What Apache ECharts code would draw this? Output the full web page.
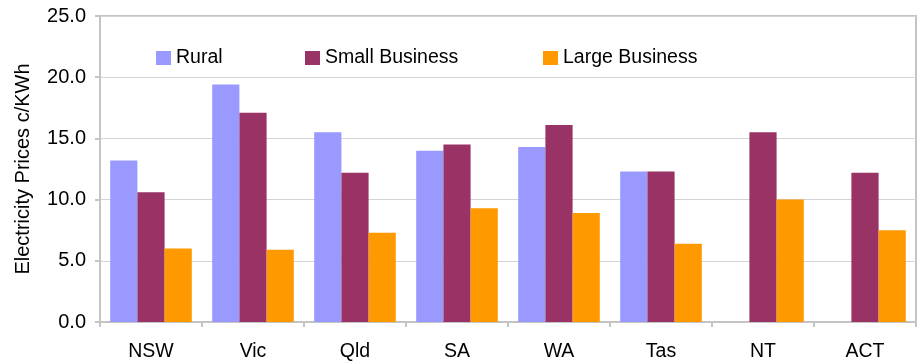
<!DOCTYPE html>
<html>
<head>
<meta charset="utf-8">
<script src="https://cdn.jsdelivr.net/npm/echarts@6/dist/echarts.min.js"></script>
<style>
  html, body { margin: 0; padding: 0; background: #ffffff; }
  #chart { width: 920px; height: 363px; }
</style>
</head>
<body>
<div id="chart"></div>
<script>
// Electricity prices by state and customer type (c/KWh)
const states = ['NSW', 'Vic', 'Qld', 'SA', 'WA', 'Tas', 'NT', 'ACT'];
const rural = [13.2, 19.4, 15.5, 14.0, 14.3, 12.3, null, null];
const smallBusiness = [10.6, 17.1, 12.2, 14.5, 16.1, 12.3, 15.5, 12.2];
const largeBusiness = [6.0, 5.9, 7.3, 9.3, 8.9, 6.4, 10.0, 7.5];
const seriesNames = ['Rural', 'Small Business', 'Large Business'];
const seriesColors = ['#9999ff', '#993366', '#ff9900'];
const yTicks = { min: 0, max: 25, step: 5 };

const FONT = '"Liberation Sans", Arial, sans-serif';
const chart = echarts.init(document.getElementById('chart'), null, { renderer: 'canvas' });

// one legend block per series so each key sits at its own spot inside the plot
const legendLefts = [156, 305, 543];
const legends = seriesNames.map((name, i) => ({
  left: legendLefts[i], top: 48, padding: 0,
  itemWidth: 15, itemHeight: 14,
  icon: 'rect',
  textStyle: { fontFamily: FONT, fontSize: 19.5, color: '#000000' },
  data: [name]
}));

chart.setOption({
  animation: false,
  backgroundColor: '#ffffff',
  textStyle: { fontFamily: FONT, color: '#000000' },
  grid: {
    left: 100, right: 4, top: 16, bottom: 41,
    show: true, borderColor: '#c4c4c4', borderWidth: 2, backgroundColor: 'transparent'
  },
  legend: legends,
  xAxis: {
    type: 'category',
    data: states,
    axisLine: { lineStyle: { color: '#c4c4c4', width: 2 } },
    axisTick: { show: true, length: 5, lineStyle: { color: '#c4c4c4', width: 2 } },
    axisLabel: { fontFamily: FONT, fontSize: 19.5, color: '#000000', margin: 20 }
  },
  yAxis: {
    type: 'value',
    min: yTicks.min, max: yTicks.max, interval: yTicks.step,
    name: 'Electricity Prices c/KWh',
    nameLocation: 'middle',
    nameGap: 67,
    nameTextStyle: { fontFamily: FONT, fontSize: 20, color: '#000000' },
    axisLine: { show: true, lineStyle: { color: '#c4c4c4', width: 2 } },
    axisTick: { show: true, length: 5, lineStyle: { color: '#c4c4c4', width: 2 } },
    splitLine: { lineStyle: { color: '#d4d4d4', width: 1 } },
    axisLabel: {
      fontFamily: FONT, fontSize: 20, color: '#000000', margin: 14,
      formatter: v => v.toFixed(1)
    }
  },
  series: [rural, smallBusiness, largeBusiness].map((values, i) => ({
    name: seriesNames[i],
    type: 'bar',
    data: values,
    itemStyle: { color: seriesColors[i] },
    barGap: '0%',
    barCategoryGap: '20%'
  }))
});
</script>
</body>
</html>
